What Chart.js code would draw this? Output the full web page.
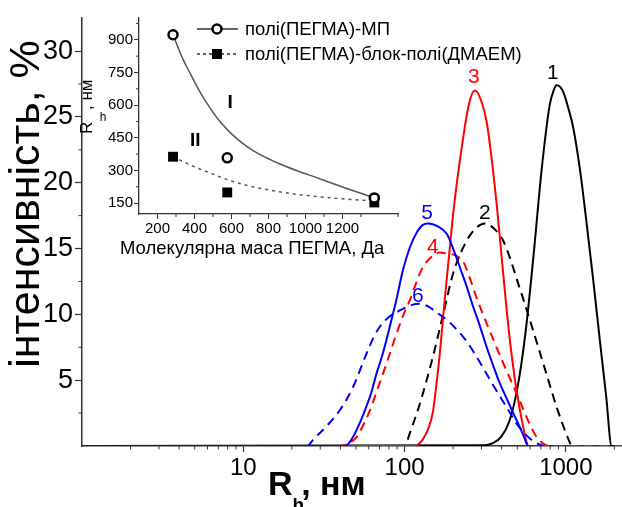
<!DOCTYPE html>
<html>
<head>
<meta charset="utf-8">
<script src="https://cdn.jsdelivr.net/npm/chart.js@4"></script>
<style>
  html, body { margin: 0; padding: 0; background: #fff; }
  #wrap { position: relative; width: 622px; height: 507px; overflow: hidden; }
  #main { position: absolute; left: 0; top: 0; }
  #inset { position: absolute; left: 80px; top: 0; }
</style>
</head>
<body>
<div id="wrap">
  <canvas id="main" width="622" height="507"></canvas>
  <canvas id="inset" width="460" height="265"></canvas>
</div>
<script>
const FONT = "'Liberation Sans', Arial, sans-serif";

// main chart: R_h (nm) vs intensity (%), six size distributions
const rh1 = [1, 316, 355, 398, 447, 501, 562, 631, 708, 794, 840, 877, 920, 970, 1040, 1111, 1230, 1346, 1479, 1626, 1778, 1923, 2230];
const int1 = [0, 0.06, 0.23, 0.71, 1.9, 4.4, 8.6, 14.5, 21.0, 25.9, 27.0, 27.4, 27.3, 26.8, 25.6, 24.2, 20.8, 16.9, 12.6, 8.0, 3.8, 0, 0];
const rh2 = [1, 100, 104, 108, 120, 130, 150, 172, 200, 243, 280, 315, 360, 409, 450, 493, 570, 656, 757, 875, 1000, 1080];
const int2 = [0, 0, 0.4, 1.0, 2.6, 4.0, 6.8, 9.8, 13.1, 15.6, 16.6, 16.9, 16.5, 15.6, 14.3, 12.8, 10.4, 8.0, 5.5, 3.0, 1.0, 0];
const rh3 = [1, 112, 126, 141, 150, 158, 166, 178, 190, 200, 224, 251, 273, 295, 323, 347, 373, 390, 409, 430, 450, 472, 495, 518, 541, 560, 580];
const int3 = [0, 0, 0.3, 1.4, 2.6, 4.8, 7.2, 11.3, 14.8, 17.6, 22.3, 26.0, 27.0, 26.4, 24.6, 21.8, 18.3, 15.8, 13.1, 10.3, 8.0, 6.0, 4.2, 2.8, 1.6, 0.7, 0];
const rh4 = [1, 40, 45, 50.6, 55, 61, 67, 73.5, 81, 89, 98, 108, 119, 130, 145, 165, 185, 205, 231, 255, 279, 336, 409, 495, 595, 650, 720, 800, 2230];
const int4 = [0, 0, 0.2, 0.7, 1.5, 2.7, 4.1, 5.5, 7.0, 8.5, 9.9, 11.1, 12.5, 13.6, 14.3, 14.7, 14.6, 14.5, 14.0, 12.7, 11.3, 8.8, 6.3, 4.0, 1.7, 0.8, 0.2, 0, 0];
const rh5 = [1, 43, 48, 53, 58, 62, 67, 72, 77, 83, 89, 97, 108, 120, 130, 140, 160, 183, 200, 220, 240, 266, 290, 323, 350, 390, 430, 472, 520, 580];
const int5 = [0, 0, 0.7, 1.8, 3.0, 4.0, 5.5, 6.7, 8.0, 9.6, 11.1, 13.2, 15.1, 16.3, 16.8, 16.9, 16.7, 16.1, 15.0, 13.6, 12.3, 10.6, 9.3, 7.5, 6.3, 4.75, 3.6, 2.5, 1.4, 0];
const rh6 = [1, 25, 27, 32.8, 39.6, 48, 58, 64, 70.6, 80, 93.6, 110, 124, 140, 160, 190, 241, 292, 355, 427, 495, 560, 640, 720];
const int6 = [0, 0, 0.45, 1.5, 2.7, 4.5, 7.0, 8.2, 9.1, 9.8, 10.3, 10.7, 10.8, 10.6, 10.1, 9.4, 8.0, 6.4, 4.6, 3.0, 1.7, 0.9, 0.3, 0];

const curveNames = ['1', '2', '3', '4', '5', '6'];
const labelRh = [832, 315, 269, 150, 138, 121];
const labelInt = [28.3, 17.7, 28.0, 15.1, 17.65, 11.4];

const xMajorTicks = [10, 100, 1000];
const xMinorTicks = [2, 3, 4, 5, 6, 7, 8, 9, 20, 30, 40, 50, 60, 70, 80, 90, 200, 300, 400, 500, 600, 700, 800, 900, 2000];
const yMajorTicks = [5, 10, 15, 20, 25, 30];
const yMinorTicks = [2.5, 7.5, 12.5, 17.5, 22.5, 27.5];

// inset: molecular mass of PEGMA vs R_h
const massPts = [284, 577, 1372];
const rhMP = [923, 358, 174];
const rhBlock = [363, 199, 153];
const fitIMass = [284, 330, 380, 430, 480, 540, 600, 680, 760, 850, 950, 1060, 1200, 1372];
const fitIRh = [923, 825, 740, 660, 592, 522, 468, 412, 370, 334, 300, 267, 224, 174];
const fitIIMass = [284, 350, 413, 500, 577, 680, 791, 920, 1061, 1200, 1372];
const fitIIRh = [363, 336, 312, 283, 258, 232, 212, 194, 180, 170, 160];

const inXMajor = [200, 400, 600, 800, 1000, 1200];
const inXMinor = [300, 500, 700, 900, 1100, 1300, 1500];
const inYMajor = [150, 300, 450, 600, 750, 900];
const inYMinor = [225, 375, 525, 675, 825, 975];

const zip = (xs, ys) => xs.map((x, i) => ({ x: x, y: ys[i] }));

const RED = '#ff0000', BLUE = '#0000ff', BLACK = '#000000', AXIS = '#333333';
const curveColors = [BLACK, BLACK, RED, RED, BLUE, BLUE];

function drawMinor(chart, id, values, len) {
  const s = chart.scales[id], a = chart.chartArea, ctx = chart.ctx;
  ctx.save();
  ctx.strokeStyle = AXIS;
  ctx.lineWidth = 1;
  values.forEach(v => {
    const p = s.getPixelForValue(v);
    ctx.beginPath();
    if (s.isHorizontal()) {
      ctx.moveTo(p, a.bottom);
      ctx.lineTo(p, a.bottom + len);
    } else {
      ctx.moveTo(a.left, p);
      ctx.lineTo(a.left - len, p);
    }
    ctx.stroke();
  });
  ctx.restore();
}

const mainDecor = {
  id: 'mainDecor',
  afterDraw(chart) {
    const ctx = chart.ctx, xs = chart.scales.x, ys = chart.scales.y;
    drawMinor(chart, 'x', xMinorTicks, 3.5);
    drawMinor(chart, 'y', yMinorTicks, 3.5);

    ctx.save();
    ctx.font = '21px ' + FONT;
    ctx.textAlign = 'center';
    ctx.textBaseline = 'middle';
    curveNames.forEach((n, i) => {
      ctx.fillStyle = curveColors[i];
      ctx.fillText(n, xs.getPixelForValue(labelRh[i]), ys.getPixelForValue(labelInt[i]));
    });
    ctx.restore();

    // y title
    ctx.save();
    ctx.fillStyle = '#000';
    ctx.translate(27, 204);
    ctx.rotate(-Math.PI / 2);
    ctx.font = '43px ' + FONT;
    ctx.textAlign = 'center';
    ctx.textBaseline = 'middle';
    ctx.fillText('інтенсивність, %', 0, 0);
    ctx.restore();

    // x title R_h, нм
    ctx.save();
    ctx.fillStyle = '#000';
    ctx.textAlign = 'left';
    ctx.textBaseline = 'alphabetic';
    ctx.font = 'bold 34px ' + FONT;
    ctx.fillText('R', 268, 495);
    const rw = ctx.measureText('R').width;
    ctx.font = 'bold 19px ' + FONT;
    ctx.fillText('h', 268 + rw, 511);
    const hw = ctx.measureText('h').width;
    ctx.font = 'bold 34px ' + FONT;
    ctx.fillText(', нм', 268 + rw + hw - 3, 495);
    ctx.restore();
  }
};

function curve(xs, ys, color, dashed, order) {
  return {
    data: zip(xs, ys),
    showLine: true,
    borderColor: color,
    borderWidth: 2,
    borderDash: dashed ? [9, 6] : [],
    pointRadius: 0,
    cubicInterpolationMode: 'monotone',
    order: order
  };
}

new Chart(document.getElementById('main'), {
  type: 'scatter',
  data: {
    datasets: [
      curve(rh5, int5, BLUE, false, 1),
      curve(rh6, int6, BLUE, true, 1),
      curve(rh3, int3, RED, false, 2),
      curve(rh4, int4, RED, true, 2),
      curve(rh1, int1, BLACK, false, 3),
      curve(rh2, int2, BLACK, true, 3)
    ]
  },
  options: {
    responsive: false,
    animation: false,
    layout: { padding: { top: 17, right: 0, left: 0, bottom: 0 } },
    plugins: { legend: { display: false }, tooltip: { enabled: false } },
    scales: {
      x: {
        type: 'logarithmic',
        min: 1,
        max: 2230,
        afterBuildTicks: s => { s.ticks = xMajorTicks.map(v => ({ value: v })); },
        afterFit: s => { s.height = 61; },
        grid: { drawOnChartArea: false, tickLength: 6, color: AXIS, tickWidth: 1.2 },
        border: { color: AXIS, width: 1.5 },
        ticks: {
          autoSkip: false, maxRotation: 0, padding: 2, color: '#000',
          font: { family: FONT, size: 24 },
          callback: v => String(v)
        }
      },
      y: {
        min: 0,
        max: 32.5,
        afterBuildTicks: s => { s.ticks = yMajorTicks.map(v => ({ value: v })); },
        afterFit: s => { s.width = 82; },
        grid: { drawOnChartArea: false, tickLength: 7, color: AXIS, tickWidth: 1.2 },
        border: { color: AXIS, width: 1.5 },
        ticks: {
          padding: 2, color: '#000',
          font: { family: FONT, size: 27 },
          callback: v => String(v)
        }
      }
    }
  },
  plugins: [mainDecor]
});

// ---- inset ----
const insetDecor = {
  id: 'insetDecor',
  afterDraw(chart) {
    const ctx = chart.ctx, xs = chart.scales.x, ys = chart.scales.y;
    drawMinor(chart, 'x', inXMinor, 3);
    drawMinor(chart, 'y', inYMinor, 3);

    // region labels
    ctx.save();
    ctx.fillStyle = '#000';
    ctx.font = 'bold 19px ' + FONT;
    ctx.textAlign = 'center';
    ctx.textBaseline = 'middle';
    ctx.fillText('I', xs.getPixelForValue(593), ys.getPixelForValue(610));
    ctx.fillText('II', xs.getPixelForValue(404), ys.getPixelForValue(435));
    ctx.restore();

    // legend
    ctx.save();
    ctx.strokeStyle = '#333';
    ctx.lineWidth = 1.5;
    ctx.beginPath(); ctx.moveTo(117, 29); ctx.lineTo(158, 29); ctx.stroke();
    ctx.setLineDash([3, 3]);
    ctx.beginPath(); ctx.moveTo(117, 54); ctx.lineTo(158, 54); ctx.stroke();
    ctx.setLineDash([]);
    ctx.fillStyle = '#fff';
    ctx.strokeStyle = '#000';
    ctx.lineWidth = 2.5;
    ctx.beginPath(); ctx.arc(137, 29, 4.5, 0, Math.PI * 2); ctx.fill(); ctx.stroke();
    ctx.fillStyle = '#000';
    ctx.fillRect(132, 49, 10, 10);
    ctx.font = '18.5px ' + FONT;
    ctx.textAlign = 'left';
    ctx.textBaseline = 'middle';
    ctx.fillText('полі(ПЕГМА)-МП', 165, 30);
    ctx.fillText('полі(ПЕГМА)-блок-полі(ДМАЕМ)', 165, 55);
    ctx.restore();

    // axis titles
    ctx.save();
    ctx.fillStyle = '#000';
    ctx.font = '18.5px ' + FONT;
    ctx.textAlign = 'left';
    ctx.textBaseline = 'alphabetic';
    ctx.fillText('Молекулярна маса ПЕГМА, Да', 40, 254);
    ctx.translate(12, 134);
    ctx.rotate(-Math.PI / 2);
    ctx.font = '17px ' + FONT;
    ctx.fillText('R', 0, 0);
    ctx.fillText(', нм', 24, 0);
    ctx.restore();
    ctx.save();
    ctx.fillStyle = '#000';
    ctx.font = '12px ' + FONT;
    ctx.textAlign = 'center';
    ctx.textBaseline = 'middle';
    ctx.fillText('h', 23, 118);
    ctx.restore();
  }
};

new Chart(document.getElementById('inset'), {
  type: 'scatter',
  data: {
    datasets: [
      {
        data: zip(massPts, rhMP), pointStyle: 'circle', pointRadius: 4.5,
        pointBorderWidth: 2.5, pointBorderColor: '#000', pointBackgroundColor: '#fff', order: 0
      },
      {
        data: zip(massPts, rhBlock), pointStyle: 'rect', pointRadius: 7,
        pointBorderWidth: 0, pointBackgroundColor: '#000', order: 0
      },
      {
        data: zip(fitIMass, fitIRh), showLine: true, borderColor: '#555', borderWidth: 1.5,
        pointRadius: 0, cubicInterpolationMode: 'monotone', order: 1
      },
      {
        data: zip(fitIIMass, fitIIRh), showLine: true, borderColor: '#555', borderWidth: 1.5,
        borderDash: [3, 4], pointRadius: 0, cubicInterpolationMode: 'monotone', order: 1
      }
    ]
  },
  options: {
    responsive: false,
    animation: false,
    layout: { padding: { top: 18, right: 142, left: 0, bottom: 0 } },
    plugins: { legend: { display: false }, tooltip: { enabled: false } },
    scales: {
      x: {
        min: 100,
        max: 1500,
        afterBuildTicks: s => { s.ticks = inXMajor.map(v => ({ value: v })); },
        afterFit: s => { s.height = 51; },
        grid: { drawOnChartArea: false, tickLength: 5, color: AXIS },
        border: { color: AXIS, width: 1.3 },
        ticks: { autoSkip: false, maxRotation: 0, padding: 1, color: '#000', font: { family: FONT, size: 15 }, callback: v => String(v) }
      },
      y: {
        min: 100,
        max: 1000,
        afterBuildTicks: s => { s.ticks = inYMajor.map(v => ({ value: v })); },
        afterFit: s => { s.width = 59; },
        grid: { drawOnChartArea: false, tickLength: 5, color: AXIS },
        border: { color: AXIS, width: 1.3 },
        ticks: { padding: 1, color: '#000', font: { family: FONT, size: 15 }, callback: v => String(v) }
      }
    }
  },
  plugins: [insetDecor]
});
</script>
</body>
</html>
